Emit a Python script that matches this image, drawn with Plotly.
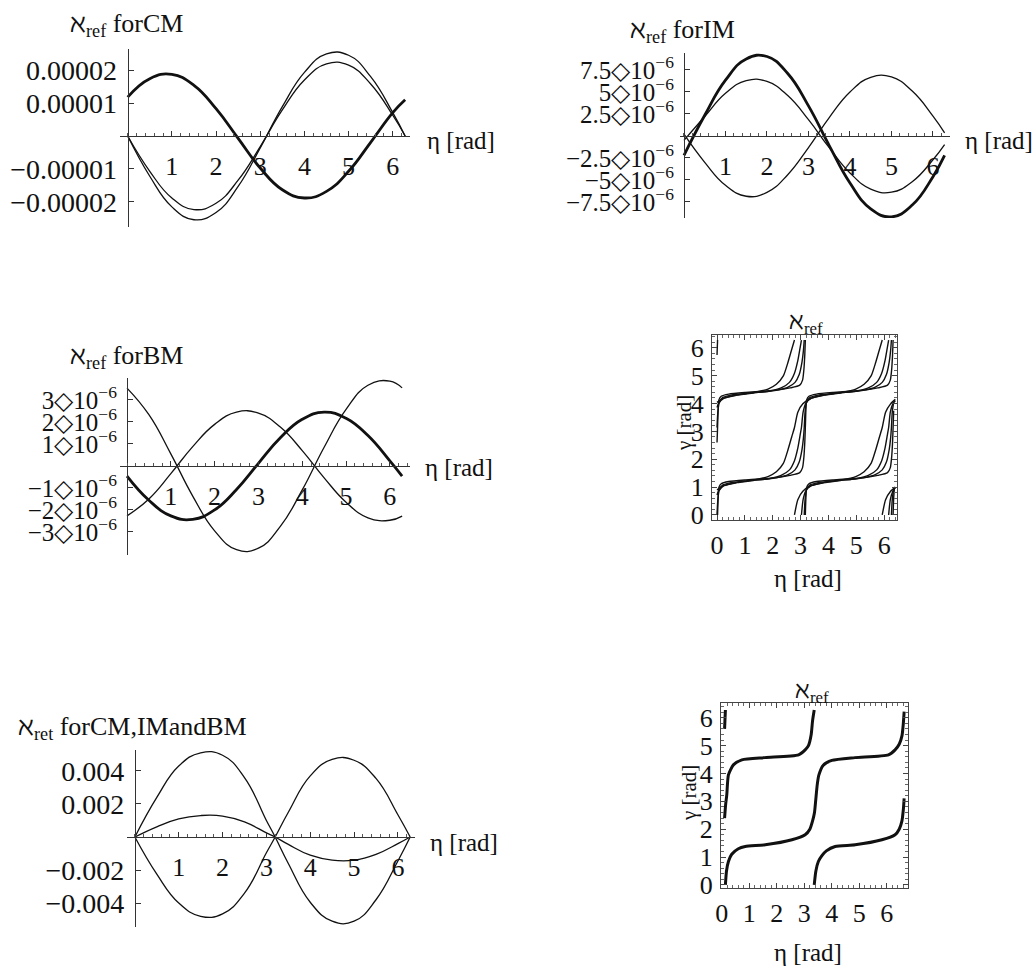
import plotly.graph_objects as go

W, H = 1036, 971
FONT = "Liberation Serif"
INK = "#111111"

# ---------------- sampled curves (eta in rad) ----------------
ETA = [0, 0.5, 1.0, 1.5, 2.0, 2.5, 3.0, 3.5, 4.0, 4.5, 5.0, 5.5, 6.0, 6.28]

# aleph_ref for CM, in units of 1e-5
CM_SCALE = 1e-5
CM_THICK = [1.18, 1.74, 1.87, 1.54, 0.83, -0.07, -0.97, -1.63, -1.88, -1.68, -1.07, -0.19, 0.71, 1.10]
CM_OUTER = [0, -1.22, -2.15, -2.54, -2.32, -1.53, -0.36, 0.89, 1.93, 2.49, 2.45, 1.80, 0.71, 0]
CM_INNER = [0, -1.07, -1.88, -2.23, -2.04, -1.34, -0.32, 0.79, 1.70, 2.19, 2.15, 1.58, 0.63, 0]

# aleph_ref for IM, in units of 1e-6
IM_SCALE = 1e-6
IM_THICK = [-2.19, 2.36, 6.34, 8.76, 9.03, 7.10, 3.42, -1.09, -5.35, -8.28, -9.19, -7.85, -4.62, -2.21]
IM_A = [-0.5, 2.21, 4.85, 6.29, 6.20, 4.59, 1.85, -1.33, -4.20, -6.03, -6.39, -5.20, -2.70, -0.98]
IM_B = [0.2, -3.00, -5.61, -6.85, -6.41, -4.40, -1.31, 2.09, 5.00, 6.67, 6.71, 5.10, 2.26, 0.36]

# aleph_ref for BM, in units of 1e-6
BM_SCALE = 1e-6
BM_A = [3.54, 2.33, 0.55, -1.37, -2.95, -3.81, -3.74, -2.75, -1.09, 0.85, 2.57, 3.67, 3.86, 3.55]
BM_B = [-2.27, -1.50, -0.35, 0.88, 1.89, 2.45, 2.40, 1.77, 0.70, -0.54, -1.65, -2.36, -2.47, -2.28]
BM_THICK = [-0.46, -1.56, -2.27, -2.43, -2.00, -1.07, 0.12, 1.28, 2.12, 2.45, 2.17, 1.38, 0.23, -0.46]

# aleph_ret for CM, IM and BM, in units of 1e-3
ETA_ALL = [0, 0.5, 1.0, 1.5, 2.0, 2.5, 3.0, 3.2, 3.5, 4.0, 4.5, 5.0, 5.5, 6.0, 6.28]
ALL_SCALE = 1e-3
ALL_A = [0, 2.4, 4.3, 5.1, 4.95, 3.6, 1.0, 0, -1.6, -3.95, -5.1, -5.1, -3.8, -1.45, 0]
ALL_B = [0, -2.25, -4.0, -4.8, -4.65, -3.4, -0.95, 0, 1.5, 3.7, 4.7, 4.65, 3.55, 1.35, 0]
ALL_C = [0, 0.62, 1.1, 1.3, 1.27, 0.92, 0.25, 0, -0.45, -1.1, -1.4, -1.4, -1.05, -0.4, 0]

# gamma(eta) families, wrapped to [0, 2pi]; None marks a wrap
N = None
GD_ETA = [0.0, 0.02, N,
          0.02, 0.04, 0.07, 0.15, 0.42, 1.02, 1.62, 2.22, 2.62, 2.97, 3.07, 3.12, 3.15, 3.17, 3.19, 3.22, 3.3,
          3.57, 4.17, 4.77, 5.37, 5.77, 6.12, 6.22, 6.27, 6.3, 6.32, N, 6.32, 6.34, 6.37, N,
          0.0, 0.02, 0.04, 0.07, 0.15, 0.42, 1.02, 1.62, 2.22, 2.62, 2.97, 3.07, 3.12, 3.15, 3.17, N,
          3.17, 3.19, 3.22, 3.3, 3.57, 4.17, 4.77, 5.37, 5.77, 6.12, 6.22, 6.27, 6.3, 6.32, 6.34]
GD_VAL = [5.74, 6.28, N,
          0.0, 0.6, 1.0, 1.12, 1.2, 1.26, 1.3, 1.35, 1.42, 1.52, 1.7, 2.1, 2.6, 3.14, 3.74, 4.14, 4.26,
          4.34, 4.4, 4.44, 4.49, 4.56, 4.66, 4.84, 5.24, 5.74, 6.28, N, 0.0, 0.6, 1.0, N,
          2.6, 3.14, 3.74, 4.14, 4.26, 4.34, 4.4, 4.44, 4.49, 4.56, 4.66, 4.84, 5.24, 5.74, 6.28, N,
          0.0, 0.6, 1.0, 1.12, 1.2, 1.26, 1.3, 1.35, 1.42, 1.52, 1.7, 2.1, 2.6, 3.14, 3.74]

GC_ETA = [0.0, 0.03, 0.08, 0.2, 0.5, 1.1, 1.7, 2.2, 2.55, 2.8, 2.95, 3.05, 3.1, 3.13, 3.16, 3.21, 3.33,
          3.63, 4.23, 4.83, 5.33, 5.68, 5.93, 6.08, 6.18, 6.23, 6.26, N, 6.26, 6.29, 6.34, 6.4, N,
          0.0, 0.03, 0.08, 0.2, 0.5, 1.1, 1.7, 2.2, 2.55, 2.8, 2.95, 3.05, 3.1, 3.13, N,
          3.13, 3.16, 3.21, 3.33, 3.63, 4.23, 4.83, 5.33, 5.68, 5.93, 6.08, 6.18, 6.23, 6.26, 6.29, 6.34]
GC_VAL = [0.0, 0.55, 0.9, 1.07, 1.16, 1.23, 1.28, 1.35, 1.45, 1.62, 1.9, 2.35, 2.75, 3.14, 3.69, 4.04, 4.21,
          4.3, 4.37, 4.42, 4.49, 4.59, 4.76, 5.04, 5.49, 5.89, 6.28, N, 0.0, 0.55, 0.9, 1.0, N,
          3.14, 3.69, 4.04, 4.21, 4.3, 4.37, 4.42, 4.49, 4.59, 4.76, 5.04, 5.49, 5.89, 6.28, N,
          0.0, 0.55, 0.9, 1.07, 1.16, 1.23, 1.28, 1.35, 1.45, 1.62, 1.9, 2.35, 2.75, 3.14, 3.69, 4.04]

GB_ETA = [0.0, 0.05, 0.25, 0.7, 1.3, 1.9, 2.3, 2.6, 2.78, 2.9, 2.98, 3.03, 3.09, 3.18, 3.38, 3.83, 4.43,
          5.03, 5.43, 5.73, 5.91, 6.03, 6.11, 6.16, N, 6.16, 6.22, 6.31, 6.4, N,
          0.0, 0.05, 0.25, 0.7, 1.3, 1.9, 2.3, 2.6, 2.78, 2.9, 2.98, 3.03, N,
          3.03, 3.09, 3.18, 3.38, 3.83, 4.43, 5.03, 5.43, 5.73, 5.91, 6.03, 6.11, 6.16, 6.22, 6.31, 6.4]
GB_VAL = [0.72, 0.85, 1.05, 1.16, 1.24, 1.31, 1.42, 1.62, 1.95, 2.4, 2.85, 3.14, 3.69, 3.99, 4.19, 4.3, 4.38,
          4.45, 4.56, 4.76, 5.09, 5.54, 5.99, 6.28, N, 0.0, 0.55, 0.85, 0.98, N,
          3.86, 3.99, 4.19, 4.3, 4.38, 4.45, 4.56, 4.76, 5.09, 5.54, 5.99, 6.28, N,
          0.0, 0.55, 0.85, 1.05, 1.16, 1.24, 1.31, 1.42, 1.62, 1.95, 2.4, 2.85, 3.14, 3.69, 3.99, 4.1]

GA_ETA = [0.0, 0.23, 0.73, 1.33, 1.83, 2.13, 2.38, 2.55, 2.68, 2.78, 2.9, 3.08, 3.38, 3.88, 4.48, 4.98,
          5.28, 5.53, 5.7, 5.83, 5.93, N, 5.93, 6.05, 6.23, 6.4, N,
          0.0, 0.23, 0.73, 1.33, 1.83, 2.13, 2.38, 2.55, 2.68, 2.78, N,
          2.78, 2.9, 3.08, 3.38, 3.88, 4.48, 4.98, 5.28, 5.53, 5.7, 5.83, 5.93, 6.05, 6.23, 6.4]
GA_VAL = [0.9, 1.05, 1.17, 1.26, 1.38, 1.55, 1.85, 2.35, 2.8, 3.14, 3.69, 3.99, 4.19, 4.31, 4.4, 4.52,
          4.69, 4.99, 5.49, 5.94, 6.28, N, 0.0, 0.55, 0.85, 1.0, N,
          4.04, 4.19, 4.31, 4.4, 4.52, 4.69, 4.99, 5.49, 5.94, 6.28, N,
          0.0, 0.55, 0.85, 1.05, 1.17, 1.26, 1.38, 1.55, 1.85, 2.35, 2.8, 3.14, 3.69, 3.99, 4.15]

# combined gamma(eta)
GT_ETA = [0.1, 0.13, N,
          0.13, 0.17, 0.24, 0.36, 0.6, 0.85, 1.58, 2.55, 3.03, 3.2, 3.3, 3.37, 3.42, 3.47, 3.53, 3.69,
          4.0, 4.84, 6.06, 6.3, 6.45, 6.55, 6.6, 6.63, N,
          0.1, 0.14, 0.18, 0.24, 0.42, 0.73, 1.57, 2.79, 3.03, 3.15, 3.25, 3.3, 3.36, N,
          3.36, 3.42, 3.51, 3.64, 3.8, 4.12, 4.85, 5.82, 6.3, 6.45, 6.55, 6.6, 6.63]
GT_VAL = [5.6, 6.28, N,
          0.0, 0.5, 0.84, 1.1, 1.3, 1.38, 1.44, 1.62, 1.8, 2.0, 2.3, 2.6, 3.1, 3.6, 3.95, 4.3,
          4.47, 4.57, 4.67, 4.85, 5.05, 5.35, 5.8, 6.22, N,
          2.4, 2.9, 3.23, 3.95, 4.31, 4.49, 4.57, 4.67, 4.85, 5.0, 5.4, 5.9, 6.28, N,
          0.0, 0.5, 0.84, 1.05, 1.22, 1.38, 1.44, 1.62, 1.8, 2.0, 2.3, 2.7, 3.11]


def px(x):
    return x / W


def py(y):
    return 1 - y / H


fig = go.Figure()


def curve(x, y, ax, width, smoothing=1.3):
    fig.add_trace(go.Scatter(
        x=x, y=y, xaxis="x" + ax, yaxis="y" + ax, mode="lines",
        line=dict(color=INK, width=width, shape="spline", smoothing=smoothing),
        showlegend=False, hoverinfo="skip"))


curve(ETA, [v * CM_SCALE for v in CM_OUTER], "", 1.3)
curve(ETA, [v * CM_SCALE for v in CM_INNER], "", 1.3)
curve(ETA, [v * CM_SCALE for v in CM_THICK], "", 2.8)

curve(ETA, [v * IM_SCALE for v in IM_A], "2", 1.3)
curve(ETA, [v * IM_SCALE for v in IM_B], "2", 1.3)
curve(ETA, [v * IM_SCALE for v in IM_THICK], "2", 2.8)

curve(ETA, [v * BM_SCALE for v in BM_A], "3", 1.3)
curve(ETA, [v * BM_SCALE for v in BM_B], "3", 1.3)
curve(ETA, [v * BM_SCALE for v in BM_THICK], "3", 2.8)

for xs, ys in [(GA_ETA, GA_VAL), (GB_ETA, GB_VAL), (GC_ETA, GC_VAL), (GD_ETA, GD_VAL)]:
    curve(xs, ys, "4", 1.4, 0.6)

curve(ETA_ALL, [v * ALL_SCALE for v in ALL_A], "5", 1.3)
curve(ETA_ALL, [v * ALL_SCALE for v in ALL_B], "5", 1.3)
curve(ETA_ALL, [v * ALL_SCALE for v in ALL_C], "5", 1.3)

curve(GT_ETA, GT_VAL, "6", 3.0, 0.6)

XTICKFONT = dict(family=FONT, size=26, color=INK)
YTICKFONT = dict(family=FONT, size=28, color=INK)
SCIFONT = dict(family=FONT, size=25, color=INK)


def origin_axes(xdom, xrange, x0px, ydom, yrange, y0px, yvals, ytext, yfont):
    """Mathematica-style axes crossing at the origin."""
    xa = dict(domain=[px(xdom[0]), px(xdom[1])], range=xrange, anchor="free",
              position=py(y0px), showline=True, linecolor="#333", linewidth=1.2,
              ticks="inside", ticklen=5, tickcolor="#333", tickvals=[1, 2, 3, 4, 5, 6],
              tickfont=XTICKFONT, ticklabelstandoff=7, showgrid=False, zeroline=False,
              automargin=False,
              minor=dict(ticks="inside", ticklen=2.5, tickcolor="#555", tickmode="linear",
                         tick0=0, dtick=0.2, showgrid=False))
    ya = dict(domain=[py(ydom[1]), py(ydom[0])], range=yrange, anchor="free",
              position=px(x0px), showline=True, linecolor="#333", linewidth=1.2,
              ticks="inside", ticklen=5, tickcolor="#333", tickvals=yvals, ticktext=ytext,
              tickfont=yfont, ticklabelstandoff=5, showgrid=False, zeroline=False,
              automargin=False)
    return xa, ya


def sci(m):
    return f"{m}\u25c710<sup>\u22126</sup>"


x1, y1 = origin_axes((120, 410), [-0.174, 6.39], 127.7, (49, 227), [-2.76e-5, 2.64e-5], 136,
                     [2e-5, 1e-5, -1e-5, -2e-5],
                     ["0.00002", "0.00001", "\u22120.00001", "\u22120.00002"], YTICKFONT)
x2, y2 = origin_axes((680, 950), [-0.096, 6.41], 684, (53, 218), [-9.32e-6, 9.43e-6], 136,
                     [7.5e-6, 5e-6, 2.5e-6, -2.5e-6, -5e-6, -7.5e-6],
                     [sci("7.5"), sci("5"), sci("2.5"), sci("\u22122.5"), sci("\u22125"), sci("\u22127.5")],
                     SCIFONT)
x3, y3 = origin_axes((120, 410), [-0.16, 6.46], 127, (378, 555), [-4.05e-6, 4.0e-6], 466,
                     [3e-6, 2e-6, 1e-6, -1e-6, -2e-6, -3e-6],
                     [sci("3"), sci("2"), sci("1"), sci("\u22121"), sci("\u22122"), sci("\u22123")],
                     SCIFONT)
x5, y5 = origin_axes((127, 415), [-0.18, 6.39], 135, (750, 927), [-5.45e-3, 5.27e-3], 837,
                     [4e-3, 2e-3, -2e-3, -4e-3],
                     ["0.004", "0.002", "\u22120.002", "\u22120.004"], YTICKFONT)


def framed_axes(xdom, xrange, ydom, yrange, letter):
    common = dict(showline=True, mirror="allticks", linecolor="#444", linewidth=1.2,
                  ticks="inside", ticklen=5, tickcolor="#444", tickvals=[0, 1, 2, 3, 4, 5, 6],
                  tickfont=dict(family=FONT, size=26, color=INK), showgrid=False,
                  zeroline=False, automargin=False,
                  minor=dict(ticks="inside", ticklen=2.5, tickcolor="#666", tickmode="linear",
                             tick0=0, dtick=0.2, showgrid=False))
    xa = dict(common, domain=[px(xdom[0]), px(xdom[1])], range=xrange, anchor="y" + letter,
              ticklabelstandoff=2)
    ya = dict(common, domain=[py(ydom[1]), py(ydom[0])], range=yrange, anchor="x" + letter,
              ticklabelstandoff=2)
    return xa, ya


x4, y4 = framed_axes((712, 897), [-0.18, 6.46], (335, 520), [-0.18, 6.46], "4")
x6, y6 = framed_axes((721, 908), [-0.03, 6.77], (703.3, 887.7), [-0.1, 6.52], "6")


def text(s, xp, yp, xanchor="left", angle=0, size=25):
    return dict(text=s, x=px(xp), y=py(yp), xref="paper", yref="paper", showarrow=False,
                xanchor=xanchor, yanchor="middle", textangle=angle,
                font=dict(family=FONT, size=size, color=INK))


annotations = [
    text("\u2135<sub>ref</sub> forCM", 68, 25, size=26),
    text("\u2135<sub>ref</sub> forIM", 628, 31, size=26),
    text("\u2135<sub>ref</sub> forBM", 68, 357, size=26),
    text("\u2135<sub>ret</sub> forCM,IMandBM", 16, 728, size=26),
    text("\u2135<sub>ref</sub>", 806, 323, "center", size=24),
    text("\u2135<sub>ref</sub>", 812, 692, "center", size=24),
    text("\u03b7 [rad]", 425, 140),
    text("\u03b7 [rad]", 963, 140),
    text("\u03b7 [rad]", 423, 467),
    text("\u03b7 [rad]", 428, 842),
    text("\u03b7 [rad]", 808, 578, "center"),
    text("\u03b7 [rad]", 808, 952, "center"),
    text("\u03b3 [rad]", 684, 423, "center", -90, 21),
    text("\u03b3 [rad]", 689, 793, "center", -90, 21),
]

fig.update_layout(
    width=W, height=H, template="none",
    margin=dict(l=0, r=0, t=0, b=0),
    paper_bgcolor="white", plot_bgcolor="white",
    font=dict(family=FONT, size=24, color=INK),
    xaxis=x1, yaxis=y1, xaxis2=x2, yaxis2=y2, xaxis3=x3, yaxis3=y3,
    xaxis4=x4, yaxis4=y4, xaxis5=x5, yaxis5=y5, xaxis6=x6, yaxis6=y6,
    annotations=annotations,
)

fig.write_html("out.html")
